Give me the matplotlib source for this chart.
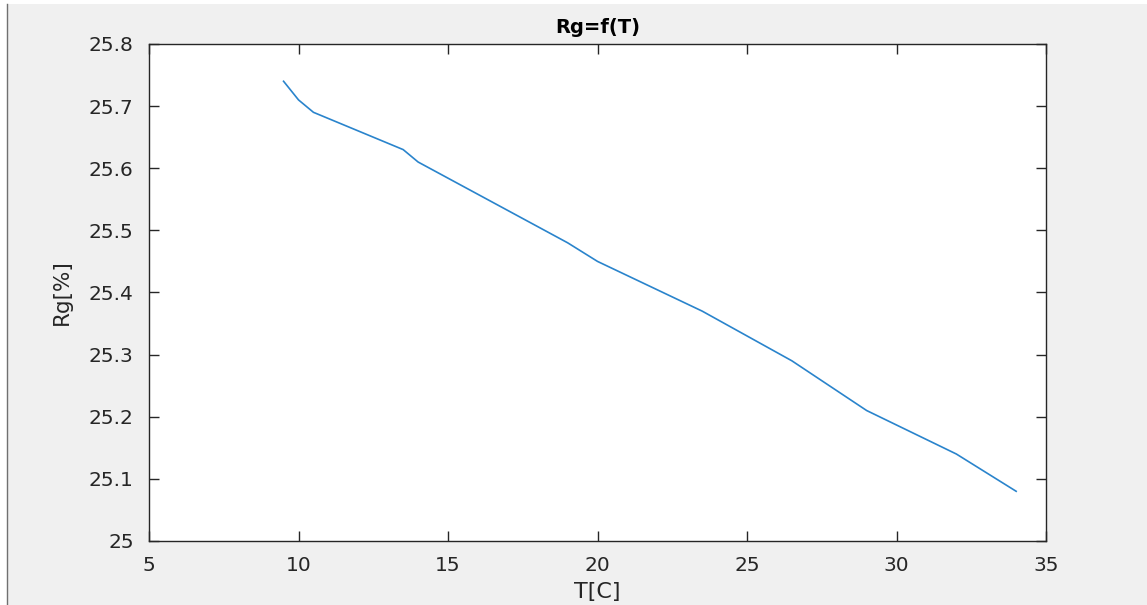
import matplotlib.pyplot as plt
from matplotlib.patches import Rectangle
from matplotlib.lines import Line2D

# valores
temperatura = [9.5, 10, 10.5, 13.5, 14, 19, 20, 23.5, 26.5, 29, 32, 34]
rg = [25.74, 25.71, 25.69, 25.63, 25.61, 25.48, 25.45, 25.37, 25.29, 25.21, 25.14, 25.08]

xticks = [5, 10, 15, 20, 25, 30, 35]
yticks = [25, 25.1, 25.2, 25.3, 25.4, 25.5, 25.6, 25.7, 25.8]

plt.rcParams['font.family'] = ['DejaVu Sans']

fig = plt.figure(figsize=(11.47, 6.05), dpi=100)
fig.patch.set_facecolor('#f0f0f0')

# borde de la ventana (franja blanca a la izquierda y arriba)
fig.patches.append(Rectangle((0, 0), 7 / 1147, 1, transform=fig.transFigure,
                             facecolor='white', edgecolor='none'))
fig.patches.append(Rectangle((0, 1 - 4 / 605), 1, 4 / 605, transform=fig.transFigure,
                             facecolor='white', edgecolor='none'))
fig.lines.append(Line2D([7.5 / 1147, 7.5 / 1147], [0, 1 - 4 / 605], transform=fig.transFigure,
                        color='#707070', linewidth=1.0))

ax = fig.add_axes([0.1299, 0.1058, 0.7821, 0.8215])
ax.set_facecolor('white')

ax.plot(temperatura, rg, color='#2a84cc', linewidth=1.2)

ax.set_xlim(5, 35)
ax.set_ylim(25, 25.8)
ax.set_xticks(xticks)
ax.set_yticks(yticks)
ax.set_xticklabels([str(t) for t in xticks])
ax.set_yticklabels(['25'] + ['%.1f' % v for v in yticks[1:]])

grisEje = '#262626'
for lado in ax.spines.values():
    lado.set_color(grisEje)
    lado.set_linewidth(1.0)
ax.tick_params(direction='in', length=7, width=1.0, colors=grisEje,
               labelsize=14.5, top=True, right=True, pad=11)
for etiqueta in ax.get_xticklabels() + ax.get_yticklabels():
    etiqueta.set_color('#262626')

ax.set_title('Rg=f(T)', fontsize=14, fontweight='bold', color='black', pad=8)
ax.set_xlabel('T[C]', fontsize=16, color='#262626', labelpad=5)
ax.set_ylabel('Rg[%]', fontsize=15.5, color='#262626', labelpad=12)

fig.savefig('out.png', dpi=100, facecolor=fig.get_facecolor())
